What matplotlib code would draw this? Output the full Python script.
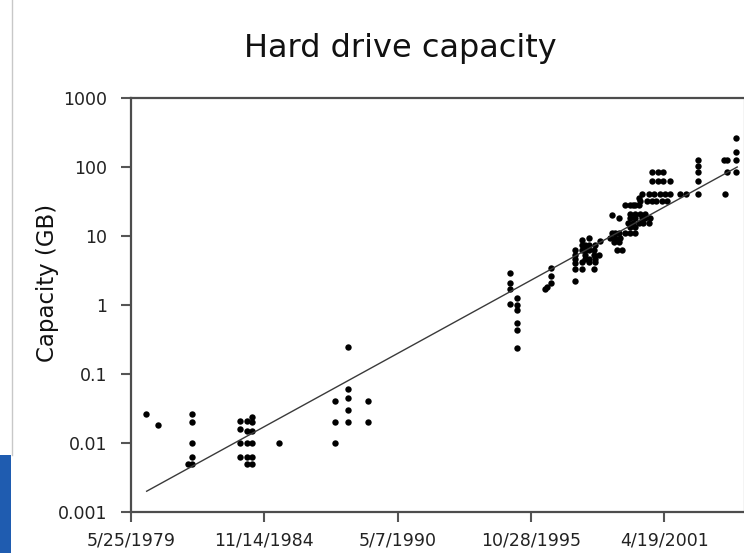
import pandas as pd
import matplotlib.pyplot as plt
from matplotlib.patches import Rectangle
from matplotlib.lines import Line2D

# drive introductions: decimal year and capacity in GB
drive_year = [
    1980.01, 1980.50, 1981.75,
    1981.90, 1981.90, 1981.90, 1981.90, 1981.90,
    1983.88, 1983.88, 1983.88, 1983.88,
    1984.16, 1984.16, 1984.16, 1984.16, 1984.16,
    1984.36, 1984.36, 1984.36, 1984.36, 1984.36, 1984.36,
    1985.50,
    1987.79, 1987.79, 1987.79,
    1988.33, 1988.33, 1988.33, 1988.33, 1988.33,
    1989.15, 1989.15,
    1994.97, 1994.97, 1994.97, 1994.97,
    1995.26, 1995.26, 1995.26, 1995.26, 1995.26, 1995.26,
    1996.40, 1996.50, 1996.64, 1996.64, 1996.64,
    1997.64, 1997.64, 1997.64, 1997.64, 1997.64, 1997.64,
    1997.92, 1997.92, 1997.92, 1997.92, 1997.92,
    1998.05, 1998.05, 1998.05, 1998.05,
    1998.22, 1998.22, 1998.22, 1998.22, 1998.22,
    1998.39, 1998.39, 1998.39,
    1998.46, 1998.46, 1998.46,
    1998.60, 1998.67,
    1999.08, 1999.15, 1999.15, 1999.22, 1999.29, 1999.29, 1999.36,
    1999.42, 1999.42, 1999.42, 1999.49, 1999.56,
    1999.70, 1999.70, 1999.82,
    1999.90, 1999.90, 1999.90, 1999.90, 1999.90,
    2000.03, 2000.03,
    2000.11, 2000.11, 2000.11, 2000.11, 2000.11,
    2000.24, 2000.24, 2000.24,
    2000.31, 2000.31, 2000.38, 2000.38, 2000.44,
    2000.52, 2000.52, 2000.59, 2000.65, 2000.65, 2000.72,
    2000.79, 2000.79, 2000.79, 2000.86, 2000.97,
    2001.02, 2001.02, 2001.10, 2001.20, 2001.24, 2001.24,
    2001.34, 2001.41, 2001.54, 2001.54,
    2001.93, 2002.20,
    2002.67, 2002.67, 2002.67, 2002.67, 2002.67,
    2003.73, 2003.77, 2003.87, 2003.87,
    2004.25, 2004.25, 2004.25, 2004.25,
]
drive_gb = [
    0.026, 0.018, 0.005,
    0.026, 0.020, 0.010, 0.0063, 0.005,
    0.021, 0.016, 0.010, 0.0063,
    0.021, 0.015, 0.010, 0.0063, 0.005,
    0.024, 0.020, 0.015, 0.010, 0.0063, 0.005,
    0.010,
    0.040, 0.020, 0.010,
    0.25, 0.060, 0.045, 0.030, 0.020,
    0.040, 0.020,
    2.9, 2.1, 1.7, 1.05,
    1.25, 1.0, 0.85, 0.54, 0.43, 0.24,
    1.7, 1.8, 3.4, 2.6, 2.1,
    6.3, 5.3, 4.7, 4.0, 3.3, 2.2,
    8.7, 7.4, 6.3, 4.2, 3.3,
    7.4, 6.3, 5.3, 4.7,
    9.2, 7.4, 6.3, 4.7, 4.2,
    6.3, 5.3, 3.3,
    7.4, 4.7, 4.2,
    5.3, 8.5,
    9.2, 20, 11, 8.3, 11, 9.2, 6.3,
    18, 11, 8.3, 9.2, 6.3,
    28, 11, 15.4,
    28, 21, 18, 13.6, 11,
    28, 15.4,
    28, 21, 18, 13.6, 11,
    35, 28, 15.4,
    32, 21, 41, 18, 15.4,
    21, 18, 32, 41, 15.4, 18,
    84, 62, 32, 41, 32,
    84, 62, 41, 32, 84, 62,
    41, 32, 62, 41,
    41, 41,
    126, 103, 84, 62, 41,
    126, 41, 126, 84,
    261, 163, 126, 84,
]

# fitted trend, end points
trend_year = [1980.05, 2004.29]
trend_gb = [0.002, 100]

x_ticks = ['1979-05-25', '1984-11-14', '1990-05-07', '1995-10-28', '2001-04-19']
y_ticks = [0.001, 0.01, 0.1, 1, 10, 100, 1000]
y_labels = ['0.001', '0.01', '0.1', '1', '10', '100', '1000']


def to_date(y):
    yr = int(y)
    return pd.Timestamp(yr, 1, 1) + pd.Timedelta(days=(y - yr) * 365.25)


W, H = 744, 553
fig = plt.figure(figsize=(W / 100, H / 100), dpi=100)
ax = fig.add_axes([130.7 / W, 41 / H, (743.5 - 130.7) / W, 414 / H])

ax.plot([to_date(y) for y in drive_year], drive_gb, 'o', ms=4.6,
        color='black', mec='none')
ax.plot([to_date(y) for y in trend_year], trend_gb, color='#3a3a3a', lw=1)

ax.set_yscale('log')
ax.set_ylim(0.001, 1000)
ax.set_xlim(pd.Timestamp('1979-05-25'), pd.Timestamp('2004-07-19'))

tick_dates = [pd.Timestamp(d) for d in x_ticks]
ax.set_xticks(tick_dates)
ax.set_xticklabels([f'{d.month}/{d.day}/{d.year}' for d in tick_dates])
ax.set_yticks(y_ticks)
ax.set_yticklabels(y_labels)
ax.minorticks_off()

ax.tick_params(direction='out', length=7, width=1.5, color='#555555',
               labelsize=12.5, labelcolor='#222222')
ax.tick_params(axis='y', pad=10)
ax.tick_params(axis='x', pad=7)

for side in ['left', 'bottom', 'top']:
    ax.spines[side].set_color('#4d4d4d')
    ax.spines[side].set_linewidth(1.6)
ax.spines['right'].set_color('#c8c8c8')
ax.spines['right'].set_linewidth(1)

fig.text(400 / W, 1 - 57 / H, 'Hard drive capacity', fontsize=23,
         ha='center', va='baseline', color='#111111')
fig.text(48 / W, 1 - 283 / H, 'Capacity (GB)', fontsize=16.5,
         rotation=90, ha='center', va='center', color='#111111')

# slide frame bits
fig.add_artist(Line2D([11.5 / W, 11.5 / W], [98 / H, 1], color='#c8c8c8', lw=1))
fig.add_artist(Rectangle((0, 0), 10.5 / W, 98 / H, color='#1f5cb0', lw=0))

fig.savefig('out.png', dpi=100)
